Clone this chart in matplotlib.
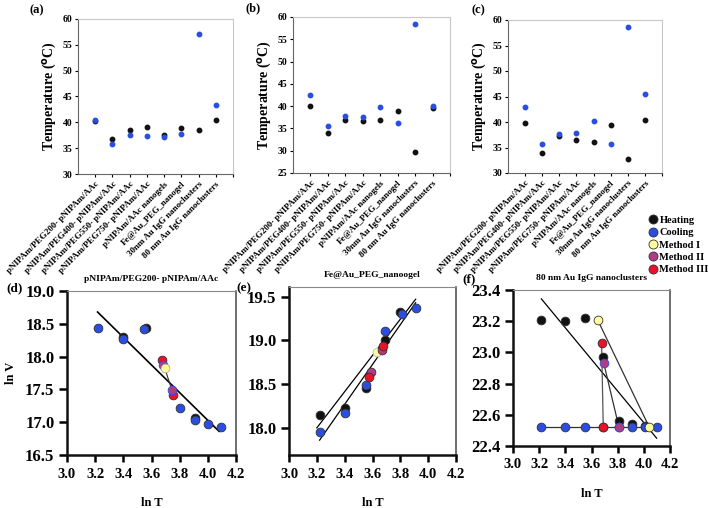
import matplotlib
matplotlib.use("Agg")
import numpy as np
from matplotlib import pyplot as plt
from matplotlib.lines import Line2D

plt.rcParams['font.family'] = ['Liberation Serif', 'DejaVu Serif']
plt.rcParams['font.weight'] = 'bold'
plt.rcParams['axes.titleweight'] = 'bold'
plt.rcParams['axes.labelweight'] = 'bold'
plt.rcParams['mathtext.default'] = 'bf'

# ---- top row: transition temperatures ----
samples = ['pNIPAm/PEG200- pNIPAm/AAc', 'pNIPAm/PEG400- pNIPAm/AAc',
           'pNIPAm/PEG550- pNIPAm/AAc', 'pNIPAm/PEG750- pNIPAm/AAc',
           'pNIPAm/AAc nanogels', 'Fe@Au_PEG_nanogel',
           '30nm Au IgG nanoclusters', '80 nm Au IgG nanoclusters']

heat_a = [40.3, 36.8, 38.6, 39.1, 37.5, 38.9, 38.6, 40.4]
cool_a = [40.4, 35.9, 37.5, 37.3, 37.1, 37.8, 57.1, 43.3]
heat_b = [40.1, 34.0, 36.8, 36.7, 36.8, 39.0, 29.8, 39.5]
cool_b = [42.5, 35.6, 37.8, 37.6, 39.7, 36.2, 58.5, 40.0]
heat_c = [39.8, 34.0, 37.3, 36.5, 36.1, 39.4, 32.7, 40.3]
cool_c = [43.0, 35.6, 37.6, 37.9, 40.1, 35.7, 58.6, 45.5]

# ---- bottom row: ln V vs ln T ----
# (d) pNIPAm/PEG200- pNIPAm/AAc
d_heat_x = [3.40, 3.56, 3.91]
d_heat_y = [18.30, 18.44, 17.06]
d_cool_x = [3.22, 3.40, 3.55, 3.80, 3.91, 4.00, 4.09]
d_cool_y = [18.44, 18.27, 18.42, 17.21, 17.04, 16.97, 16.92]
d_m1_x, d_m1_y = [3.693], [17.83]
d_m2_x, d_m2_y = [3.684, 3.745], [17.87, 17.49]
d_m3_x, d_m3_y = [3.675, 3.755], [17.95, 17.42]
d_fit_x, d_fit_y = [3.217, 4.08], [18.68, 16.86]
d_link_x, d_link_y = [3.693, 3.745], [17.83, 17.49]

# (e) Fe@Au_PEG_nanoogel
e_heat_x = [3.22, 3.40, 3.55, 3.69, 3.80]
e_heat_y = [18.15, 18.23, 18.45, 19.00, 19.32]
e_cool_x = [3.22, 3.40, 3.55, 3.69, 3.81, 3.91]
e_cool_y = [17.95, 18.17, 18.49, 19.11, 19.30, 19.37]
e_m1_x, e_m1_y = [3.631], [18.87]
e_m2_x, e_m2_y = [3.588, 3.665], [18.64, 18.89]
e_m3_x, e_m3_y = [3.574, 3.672], [18.58, 18.94]
e_fit1_x, e_fit1_y = [3.20, 3.91], [18.00, 19.47]
e_fit2_x, e_fit2_y = [3.22, 3.91], [17.86, 19.43]

# (f) 80 nm Au IgG nanoclusters
f_heat_x = [3.217, 3.40, 3.554, 3.689, 3.807, 3.911, 4.008]
f_heat_y = [23.21, 23.20, 23.22, 22.97, 22.56, 22.54, 22.53]
f_cool_x = [3.217, 3.40, 3.554, 3.69, 3.81, 3.911, 4.008, 4.098]
f_cool_y = [22.52, 22.52, 22.52, 22.52, 22.52, 22.52, 22.52, 22.52]
f_m1_x, f_m1_y = [3.646, 4.042], [23.21, 22.52]
f_m2_x, f_m2_y = [3.694, 3.81], [22.93, 22.52]
f_m3_x, f_m3_y = [3.677, 3.69], [23.06, 22.52]
f_fit_x, f_fit_y = [3.217, 4.098], [23.343, 22.45]

legend_names = ['Heating', 'Cooling', 'Method I', 'Method II', 'Method III']

BLACK = '#111111'
BLUE = '#2a4fe0'
YELLOW = '#ffff99'
MAGENTA = '#b03c86'
RED = '#ea1228'

W, H = 709, 508
fig = plt.figure(figsize=(W / 100, H / 100), dpi=100)


def box(l, r, t, b):
    return [l / W, (H - b) / H, (r - l) / W, (b - t) / H]


def temperaturePanel(rect, heat, cool, ylo, label, lx, ly):
    ax = fig.add_axes(box(*rect))
    xs = np.arange(1, len(samples) + 1)
    ax.plot(xs, heat, 'o', color=BLACK, ms=3.2, zorder=3)
    ax.plot(xs, cool, 'o', color=BLUE, ms=3.2, zorder=3)
    ax.set_xlim(0, 9)
    ax.set_ylim(ylo, 60)
    ax.set_yticks(np.arange(ylo, 61, 5))
    ax.set_xticks(np.arange(1, 10))
    ax.set_xticklabels(samples + [''], rotation=45, ha='right',
                       rotation_mode='anchor', fontsize=6.5)
    ax.tick_params(axis='y', labelsize=7, length=2.5, width=0.8, pad=1.5)
    ax.tick_params(axis='x', length=2.5, width=0.8, pad=2)
    for s in ['top', 'right']:
        ax.spines[s].set_color('#c8c8c8')
    for s in ['left', 'bottom']:
        ax.spines[s].set_color('#666666')
    ax.set_ylabel('Temperature ($^{o}$C)', fontsize=10, labelpad=3)
    fig.text(lx / W, 1 - ly / H, label, fontsize=9, ha='left', va='center')
    return ax


temperaturePanel((78, 233, 19, 174), heat_a, cool_a, 30, '(a)', 30, 10)
temperaturePanel((293, 450, 17, 173), heat_b, cool_b, 25, '(b)', 245, 8)
temperaturePanel((508, 662, 20, 173), heat_c, cool_c, 30, '(c)', 472, 10)


def dot(ax, x, y, color, edge='#333333'):
    ax.plot(x, y, 'o', color=color, mec=edge, mew=0.6, ms=6.3, zorder=4)


def lnPanel(rect, ylim, yticks, title, label, lx, ly, ylabel=None):
    ax = fig.add_axes(box(*rect))
    ax.set_xlim(3.0, 4.2)
    ax.set_ylim(*ylim)
    xt = np.arange(3.0, 4.21, 0.2)
    ax.set_xticks(xt)
    ax.set_xticklabels(['%.1f' % v for v in xt])
    ax.set_yticks(yticks)
    ax.set_yticklabels(['%.1f' % v for v in yticks])
    ax.tick_params(axis='x', labelsize=10.5, length=5, width=1.8, pad=4)
    ax.tick_params(axis='y', labelsize=12, length=6, width=1.8, pad=3)
    for s in ['left', 'bottom']:
        ax.spines[s].set_linewidth(1.8)
        ax.spines[s].set_color('#111111')
    ax.spines['top'].set_color('#888888')
    ax.spines['right'].set_color('#555555')
    ax.spines['right'].set_linewidth(1.2)
    ax.set_title(title, fontsize=6.8, pad=7)
    ax.set_xlabel('ln T', fontsize=9, labelpad=12)
    if ylabel:
        ax.set_ylabel(ylabel, fontsize=9, labelpad=6)
    fig.text(lx / W, 1 - ly / H, label, fontsize=9.5, ha='left', va='center')
    return ax


ax = lnPanel((67, 236, 291, 455), (16.5, 19.0), np.arange(16.5, 19.01, 0.5),
             'pNIPAm/PEG200- pNIPAm/AAc', '(d)', 6, 288, ylabel='ln V')
ax.plot(d_fit_x, d_fit_y, color='black', lw=1.2, zorder=2)
ax.plot(d_link_x, d_link_y, color='#333333', lw=0.8, zorder=2)
dot(ax, d_heat_x, d_heat_y, BLACK)
dot(ax, d_cool_x, d_cool_y, BLUE)
dot(ax, d_m3_x, d_m3_y, RED)
dot(ax, d_m2_x, d_m2_y, MAGENTA, edge=BLUE)
dot(ax, d_m1_x, d_m1_y, YELLOW, edge='#aaaaaa')

ax = lnPanel((289, 456, 287, 455), (17.69, 19.61), [18.0, 18.5, 19.0, 19.5],
             'Fe@Au_PEG_nanoogel', '(e)', 236, 288)
ax.plot(e_fit1_x, e_fit1_y, color='black', lw=0.9, zorder=2)
ax.plot(e_fit2_x, e_fit2_y, color='black', lw=0.9, zorder=2)
dot(ax, e_heat_x, e_heat_y, BLACK)
dot(ax, e_cool_x, e_cool_y, BLUE)
dot(ax, e_m1_x, e_m1_y, YELLOW, edge='#bbbbbb')
dot(ax, e_m2_x, e_m2_y, MAGENTA)
dot(ax, e_m3_x, e_m3_y, RED)

ax = lnPanel((513, 670, 290, 446), (22.4, 23.4), np.arange(22.4, 23.41, 0.2),
             '80 nm Au IgG nanoclusters', '(f)', 462, 279)
ax.plot(f_fit_x, f_fit_y, color='black', lw=0.9, zorder=2)
ax.plot(f_cool_x, f_cool_y, color='#333333', lw=0.9, zorder=2)
ax.plot(f_m1_x, f_m1_y, color='#333333', lw=0.9, zorder=2)
ax.plot(f_m2_x, f_m2_y, color='#333333', lw=0.9, zorder=2)
ax.plot(f_m3_x, f_m3_y, color='#555555', lw=0.9, zorder=2)
dot(ax, f_heat_x, f_heat_y, BLACK)
dot(ax, f_cool_x, f_cool_y, BLUE)
dot(ax, f_m1_x, f_m1_y, YELLOW)
dot(ax, f_m2_x, f_m2_y, MAGENTA, edge=BLUE)
dot(ax, f_m3_x, f_m3_y, RED)

# legend
handles = [Line2D([], [], ls='none', marker='o', ms=6.5, color=c, mec='#333333', mew=0.6)
           for c in [BLACK, BLUE, YELLOW, MAGENTA, RED]]
fig.legend(handles, legend_names,
           loc='center left', bbox_to_anchor=(648 / W, 1 - 245 / H), frameon=False,
           fontsize=7.5, handletextpad=0.1, labelspacing=0.3, borderaxespad=0,
           borderpad=0, handlelength=1.0)

fig.savefig('out.png', dpi=100)
